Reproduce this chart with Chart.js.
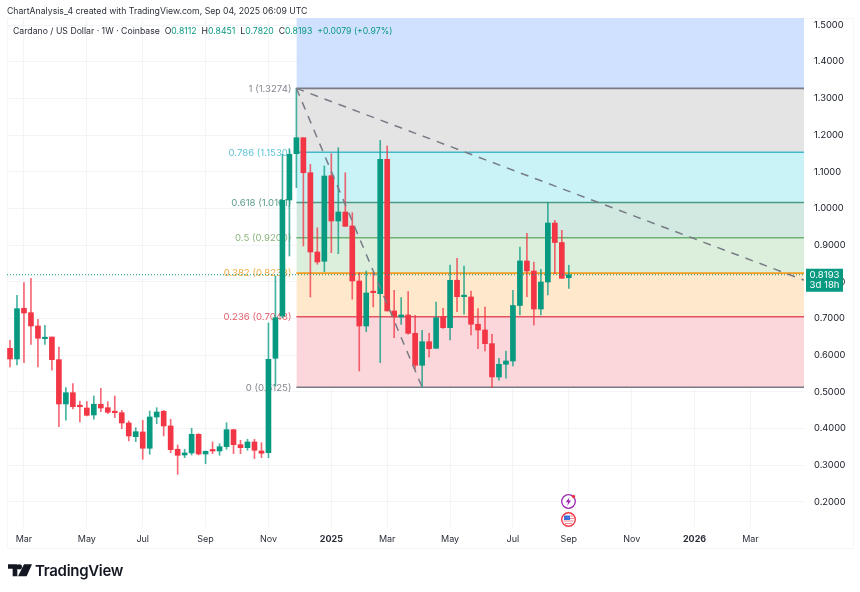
<!DOCTYPE html>
<html>
<head>
<meta charset="utf-8">
<title>Cardano / US Dollar</title>
<script src="https://cdn.jsdelivr.net/npm/chart.js@4"></script>
<style>
  html, body { margin: 0; padding: 0; background: #fff; }
  body { width: 860px; height: 592px; position: relative; overflow: hidden; font-family: Inter, sans-serif; color: #131722; }
  #chart { position: absolute; left: 0; top: 0; }
  #frame { position: absolute; left: 7px; top: 18px; width: 845px; height: 529px; border: 1px solid #f5f6f8; }
  .txt { position: absolute; white-space: pre; }
  #created { left: 7px; top: 6px; font-size: 8.7px; color: #2a2e39; }
  #legend { left: 13px; top: 26px; font-size: 8.7px; color: #2a2e39; }
  #legend b { font-weight: 400; color: #089981; }
  #logo { left: 35px; top: 561px; font-size: 15px; font-weight: 600; letter-spacing: -0.3px; color: #131722; }
  #mark { position: absolute; left: 8px; top: 564px; }
  .ev { position: absolute; }
</style>
</head>
<body>
<div id="frame"></div>
<canvas id="chart" width="860" height="592"></canvas>
<div class="txt" id="created">ChartAnalysis_4 created with TradingView.com, Sep 04, 2025 06:09 UTC</div>
<div class="txt" id="legend">Cardano / US Dollar · 1W · Coinbase  O<b>0.8112</b>  H<b>0.8451</b>  L<b>0.7820</b>  C<b>0.8193</b>  <b>+0.0079 (+0.97%)</b></div>
<svg id="mark" width="24" height="13" viewBox="0 0 36 19"><path fill="#131722" d="M0 0h14v18H7V7H0zM17 0a4 4 0 1 1 0 8 4 4 0 0 1 0-8zM24 0h12l-8 18H15z"/></svg>
<div class="txt" id="logo">TradingView</div>
<svg class="ev" style="left:560px;top:493px" width="17" height="17" viewBox="0 0 17 17"><circle cx="8.5" cy="8.5" r="6.8" fill="#fff" stroke="#9c27b0" stroke-width="1.3"/><path fill="#9c27b0" d="M9.5 4 5.8 9.3h2.3L7.2 13l3.9-5.4H8.7z"/><circle cx="13.5" cy="3.5" r="1.7" fill="#f23645"/></svg>
<svg class="ev" style="left:560px;top:511px" width="17" height="17" viewBox="0 0 17 17"><circle cx="8.5" cy="8.5" r="6.8" fill="#fff" stroke="#f23645" stroke-width="1.4"/><rect x="4" y="4.5" width="6" height="4.5" fill="#3f6fd8"/><path stroke="#f28a93" stroke-width="1" d="M10 5h3M10 7.5h4M3.5 10h10M5 12.5h7"/></svg>

<script>
// ---- Cardano weekly candles ----
const opens = [0.6188,0.5897,0.7279,0.7159,0.6796,0.6450,0.6496,0.5878,0.4670,0.4978,0.4608,0.4561,0.4370,0.4662,0.4569,0.4452,0.4433,0.4152,0.3779,0.3907,0.3463,0.4316,0.4471,0.4071,0.3436,0.3280,0.3335,0.3844,0.3307,0.3408,0.3389,0.3506,0.3970,0.3561,0.3479,0.3635,0.3389,0.3343,0.5916,0.7069,1.0230,1.1492,1.1928,1.0974,0.8813,0.8560,1.0893,0.9658,0.9903,0.9522,0.8023,0.6796,0.7723,0.7677,1.1340,0.7205,0.7041,0.7096,0.6597,0.5725,0.6368,0.6188,0.7050,0.6750,0.8042,0.7595,0.7587,0.6843,0.6687,0.6314,0.5406,0.5752,0.5842,0.7355,0.8568,0.8295,0.7259,0.7995,0.9603,0.9072,0.8112];
const highs = [0.6406,0.7633,0.7976,0.8096,0.6979,0.6815,0.6496,0.6224,0.5114,0.5224,0.4752,0.4733,0.4888,0.5098,0.4733,0.4888,0.4498,0.4207,0.4024,0.4226,0.4479,0.4569,0.4498,0.4253,0.3553,0.3436,0.4008,0.3861,0.3389,0.3635,0.3588,0.4160,0.3981,0.3681,0.3708,0.3708,0.3615,0.6878,0.8159,1.1476,1.1620,1.3274,1.1928,1.1203,0.9475,1.1157,1.1492,1.1656,1.0974,0.9884,0.8249,0.8295,0.8249,1.1857,1.1702,0.7769,0.7568,0.7731,0.7088,0.6679,0.6597,0.7450,0.7279,0.8459,0.8641,0.8431,0.7750,0.7268,0.7314,0.6570,0.5916,0.6115,0.7769,0.8949,0.9323,0.8540,0.8341,1.0157,0.9677,0.9404,0.8451];
const lows = [0.5679,0.5733,0.5796,0.6297,0.5679,0.6297,0.5589,0.4052,0.4226,0.4534,0.4180,0.4343,0.4253,0.4461,0.4406,0.4297,0.3997,0.3662,0.3643,0.3163,0.3299,0.4133,0.3798,0.3343,0.2754,0.3207,0.3280,0.3280,0.3043,0.3316,0.3272,0.3436,0.3316,0.3316,0.3408,0.3179,0.3207,0.3207,0.5161,0.7022,0.8704,1.0566,0.8977,0.7587,0.8478,0.8276,0.8794,0.8767,0.9513,0.7524,0.5570,0.6641,0.7314,0.5796,0.7205,0.6477,0.6842,0.6570,0.5616,0.5134,0.5951,0.6188,0.6733,0.6415,0.7186,0.7115,0.6551,0.6177,0.6115,0.5114,0.5316,0.5371,0.5706,0.7096,0.7595,0.6823,0.7096,0.7641,0.8222,0.8096,0.7820];
const closes = [0.5897,0.7268,0.7150,0.6796,0.6461,0.6488,0.5878,0.4670,0.4978,0.4597,0.4597,0.4362,0.4662,0.4561,0.4444,0.4433,0.4152,0.3798,0.3915,0.3463,0.4316,0.4452,0.4071,0.3425,0.3272,0.3335,0.3844,0.3307,0.3381,0.3389,0.3506,0.3970,0.3561,0.3479,0.3635,0.3408,0.3327,0.5889,0.7022,1.0222,1.1476,1.1928,1.0974,0.8813,0.8540,1.0884,0.9658,0.9903,0.9513,0.8023,0.6796,0.7696,0.7704,1.1340,0.7205,0.7041,0.7096,0.6597,0.5725,0.6368,0.6177,0.7022,0.6750,0.8042,0.7595,0.7614,0.6843,0.6687,0.6314,0.5406,0.5752,0.5842,0.7355,0.8568,0.8295,0.7259,0.7995,0.9603,0.9072,0.8096,0.8193];

// ---- Fibonacci retracement ----
const fibPrices = [1.3274, 1.1530, 1.0161, 0.9200, 0.8238, 0.7048, 0.5125];
const fibLabels = ['1 (1.3274)', '0.786 (1.1530)', '0.618 (1.0161)', '0.5 (0.9200)', '0.382 (0.8238)', '0.236 (0.7048)', '0 (0.5125)'];
const fibLines = ['#787b86', '#45b9cc', '#4a9a86', '#6cb272', '#f59c1e', '#e4525f', '#787b86'];
const fibLabelColors = ['#84868f', '#5fc3d8', '#5a9a8c', '#8ab47a', '#f0a93c', '#e4606b', '#84868f'];
const fibFills = ['#e4e4e4', '#c9f3f6', '#d1e9e0', '#dcefdc', '#ffe8cc', '#fbd6da'];
const fibTopPrice = 1.831;
const fibTopFill = '#d0e0ff';
const fibStart = 41;   // candle where the drawing starts

// ---- Trend lines (dashed) ----
const trendShort = [[41, 1.3274], [59, 0.5125]];
const trendLong = [[41, 1.3274], [113.67, 0.8045]];

// ---- Axis ----
const xTickIdx = [2, 11, 19, 28, 37, 46, 54, 63, 72, 80, 89, 98, 106];
const xTickLbl = ['Mar', 'May', 'Jul', 'Sep', 'Nov', '2025', 'Mar', 'May', 'Jul', 'Sep', 'Nov', '2026', 'Mar'];
const yTicks = [1.5, 1.4, 1.3, 1.2, 1.1, 1.0, 0.9, 0.8, 0.7, 0.6, 0.5, 0.4, 0.3, 0.2];
const xMin = -0.43, xMax = 113.67;
const yMin = 0.1317, yMax = 1.5191;

const lastPrice = 0.8193;
const lastCountdown = '3d 18h';

const UP = '#089981';
const GRID = '#f3f4f7';
const FONT = 'Inter, sans-serif';

function candleColor(i, alpha) {
  const c = closes[i] >= opens[i] ? '8,153,129' : '242,54,69';
  return 'rgba(' + c + ',' + alpha + ')';
}

function hLine(price) {
  return [{ x: fibStart, y: price }, { x: xMax, y: price }];
}

// ---- Zona warna + garis fib ----
const fibZones = [{
  type: 'line', data: hLine(fibTopPrice), order: 30, pointRadius: 0, borderWidth: 0,
  backgroundColor: fibTopFill, fill: { value: fibPrices[0] }
}];
fibFills.forEach((col, i) => {
  fibZones.push({
    type: 'line', data: hLine(fibPrices[i]), order: 29 - i, pointRadius: 0, borderWidth: 0,
    backgroundColor: col, fill: { value: fibPrices[i + 1] }
  });
});
const fibLineSets = fibPrices.map((p, i) => ({
  type: 'line', data: hLine(p), order: 15 - i, pointRadius: 0,
  borderColor: fibLines[i], borderWidth: 1.6, fill: false
}));

// ---- Label fib di sebelah kiri, digambar sebelum candle ----
const fibLabelPlugin = {
  id: 'fibLabels',
  beforeDatasetsDraw(chart) {
    const { ctx, scales } = chart;
    ctx.save();
    ctx.font = '9.6px ' + FONT;
    ctx.textAlign = 'right';
    ctx.textBaseline = 'middle';
    fibLabels.forEach((t, i) => {
      ctx.fillStyle = fibLabelColors[i];
      ctx.fillText(t, scales.x.getPixelForValue(fibStart) - 5, scales.y.getPixelForValue(fibPrices[i]) + 0.5);
    });
    ctx.restore();
  }
};

// ---- Kotak harga terakhir di sumbu kanan ----
const lastPricePlugin = {
  id: 'lastPrice',
  afterDraw(chart) {
    const { ctx, scales, chartArea } = chart;
    const y = scales.y.getPixelForValue(lastPrice);
    const left = chartArea.right + 2;
    ctx.save();
    ctx.fillStyle = UP;
    ctx.fillRect(left, y - 6, 37, 23);
    ctx.fillStyle = '#fff';
    ctx.font = '9.6px ' + FONT;
    ctx.textAlign = 'center';
    ctx.textBaseline = 'middle';
    ctx.fillText(lastPrice.toFixed(4), left + 18.5, y);
    ctx.fillText(lastCountdown, left + 18.5, y + 10.5);
    ctx.restore();
  }
};

new Chart(document.getElementById('chart').getContext('2d'), {
  data: {
    datasets: [
      ...fibZones,
      ...fibLineSets,
      {
        type: 'bar', order: 5, grouped: false, barThickness: 1,
        data: highs.map((h, i) => ({ x: i, y: [lows[i], h] })),
        backgroundColor: highs.map((_, i) => candleColor(i, 0.75))
      },
      {
        type: 'bar', order: 4, grouped: false, barThickness: 5, minBarLength: 1.5,
        data: opens.map((o, i) => ({ x: i, y: [o, closes[i]] })),
        backgroundColor: opens.map((_, i) => candleColor(i, 1))
      },
      {
        type: 'line', order: 2, pointRadius: 0, fill: false, borderColor: UP, borderWidth: 1, borderDash: [1, 2],
        data: [{ x: xMin, y: lastPrice }, { x: xMax, y: lastPrice }]
      },
      {
        type: 'line', order: 1, pointRadius: 0, fill: false, borderColor: '#787b86', borderWidth: 1.5, borderDash: [8, 7],
        data: trendShort.map(p => ({ x: p[0], y: p[1] }))
      },
      {
        type: 'line', order: 1, pointRadius: 0, fill: false, borderColor: '#787b86', borderWidth: 1.5, borderDash: [8, 7],
        data: trendLong.map(p => ({ x: p[0], y: p[1] }))
      }
    ]
  },
  options: {
    responsive: false,
    animation: false,
    layout: { padding: { left: 7, top: 18, right: 0, bottom: 0 } },
    plugins: { legend: { display: false }, tooltip: { enabled: false } },
    scales: {
      x: {
        type: 'linear', min: xMin, max: xMax, offset: false,
        afterBuildTicks: s => { s.ticks = xTickIdx.map(v => ({ value: v })); },
        afterFit: s => { s.height = 65; },
        grid: { color: GRID, drawTicks: false, offset: false },
        border: { display: false },
        ticks: {
          autoSkip: false, maxRotation: 0, padding: 7, color: '#2a2e39',
          font: ctx => {
            const lbl = ctx.tick ? xTickLbl[xTickIdx.indexOf(ctx.tick.value)] : '';
            return { family: FONT, size: 9, weight: /^\d/.test(lbl) ? 'bold' : 'normal' };
          },
          callback: v => xTickLbl[xTickIdx.indexOf(v)]
        }
      },
      y: {
        type: 'linear', position: 'right', min: yMin, max: yMax,
        afterBuildTicks: s => { s.ticks = yTicks.map(v => ({ value: v })); },
        afterFit: s => { s.width = 56; },
        grid: { color: GRID, drawTicks: false },
        border: { display: false },
        ticks: {
          padding: 10, color: '#131722',
          font: { family: FONT, size: 9.3 },
          callback: v => v.toFixed(4)
        }
      }
    }
  },
  plugins: [fibLabelPlugin, lastPricePlugin]
});
</script>
</body>
</html>
